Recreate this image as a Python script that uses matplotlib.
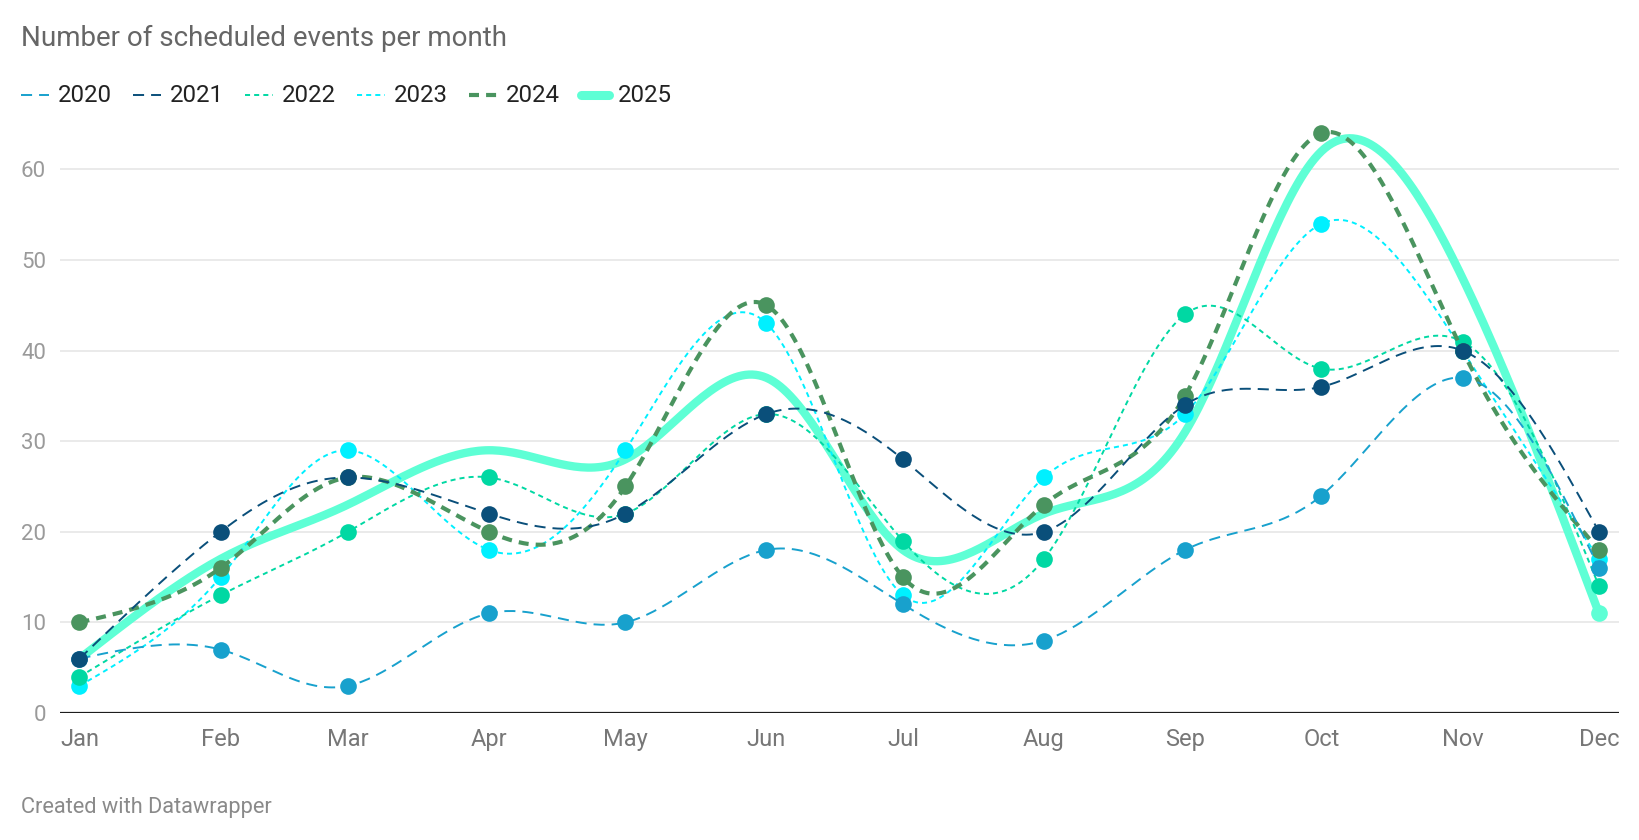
import matplotlib as mpl
mpl.use('Agg')
import matplotlib.pyplot as plt
from matplotlib.lines import Line2D
import numpy as np

plt.rcParams['font.family'] = ['Roboto', 'DejaVu Sans']

# data
months = ['Jan', 'Feb', 'Mar', 'Apr', 'May', 'Jun',
          'Jul', 'Aug', 'Sep', 'Oct', 'Nov', 'Dec']
month_dates = np.arange('2025-01', '2026-01', dtype='datetime64[M]').astype('datetime64[D]')
years = ['2020', '2021', '2022', '2023', '2024', '2025']
ev_2020 = [6, 7, 3, 11, 10, 18, 12, 8, 18, 24, 37, 16]
ev_2021 = [6, 20, 26, 22, 22, 33, 28, 20, 34, 36, 40, 20]
ev_2022 = [4, 13, 20, 26, 22, 33, 19, 17, 44, 38, 41, 14]
ev_2023 = [3, 15, 29, 18, 29, 43, 13, 26, 33, 54, 40, 17]
ev_2024 = [10, 16, 26, 20, 25, 45, 15, 23, 35, 64, 40, 18]
ev_2025 = [6, 17, 23, 29, 28, 37, 18, 22, 31, 62, 48, 11]
y_ticks = [0, 10, 20, 30, 40, 50, 60]

series = dict(zip(years, [ev_2020, ev_2021, ev_2022, ev_2023, ev_2024, ev_2025]))

# look of each series: colour, width, dashes, markers
style = {
    '2020': dict(color='#18a1cd', lw=1.4, dashes=(5.7, 3.6), marks='all', z=6),
    '2021': dict(color='#0a4f7a', lw=1.4, dashes=(5.7, 3.6), marks='all', z=7),
    '2022': dict(color='#00d8a3', lw=1.4, dashes=(2.6, 2.1), marks='all', z=4),
    '2023': dict(color='#00f0ff', lw=1.4, dashes=(2.6, 2.1), marks='all', z=3),
    '2024': dict(color='#4a945f', lw=3.0, dashes=(2.4, 1.7), marks='all', z=5),
    '2025': dict(color='#5effd5', lw=6.0, dashes=None, marks='last', z=2),
}


def natural_1d(y, n=40):
    """Natural cubic spline over point index (like d3 curveNatural, one coordinate)"""
    y = np.asarray(y, float)
    k = len(y)
    A = np.zeros((k, k))
    r = np.zeros(k)
    A[0, 0] = A[-1, -1] = 1
    for i in range(1, k - 1):
        A[i, i - 1], A[i, i], A[i, i + 1] = 1, 4, 1
        r[i] = 6 * (y[i + 1] - 2 * y[i] + y[i - 1])
    M = np.linalg.solve(A, r)
    t = np.linspace(0, 1, n, endpoint=False)
    out = []
    for i in range(k - 1):
        out.append((1 - t) * y[i] + t * y[i + 1]
                   + ((1 - t) ** 3 - (1 - t)) * M[i] / 6 + (t ** 3 - t) * M[i + 1] / 6)
    out.append([y[-1]])
    return np.concatenate(out)


W, H = 1640, 840
fig = plt.figure(figsize=(W / 100, H / 100), dpi=100)
ax = fig.add_axes([60 / W, (H - 713) / H, 1559 / W, (713 - 115) / H])

# days since Jan 1 for each month start
x = (month_dates - month_dates[0]).astype(int)
for yr in years:
    st = style[yr]
    vals = series[yr]
    sx, sy = natural_1d(x), natural_1d(vals)
    ln, = ax.plot(sx, sy, color=st['color'], lw=st['lw'], zorder=st['z'],
                  solid_capstyle='round', clip_on=False)
    if st['dashes']:
        ln.set_dashes(st['dashes'])
    if st['marks'] == 'all':
        ax.plot(x, vals, 'o', color=st['color'], ms=12, mew=0,
                zorder=st['z'] + 0.5, clip_on=False)
    else:
        ax.plot(x[-1:], vals[-1:], 'o', color=st['color'], ms=12, mew=0,
                zorder=st['z'] + 0.5, clip_on=False)

px_day = (1599 - 79.5) / x[-1]
ax.set_xlim(-19.5 / px_day, x[-1] + 20 / px_day)
ax.set_ylim(0, 66)
ax.set_xticks(x)
ax.set_xticklabels(months)
ax.set_yticks(y_ticks)
ax.yaxis.grid(True, color='#e4e4e4', lw=1.1, zorder=0)
ax.set_axisbelow(True)
for s in ax.spines.values():
    s.set_visible(False)
ax.axhline(0, color='#1d1d1d', lw=1.6, zorder=10)
ax.tick_params(axis='y', length=0, pad=10, labelsize=16, labelcolor='#9a9a9a')
ax.tick_params(axis='x', length=0, pad=11, labelsize=17, labelcolor='#777777')

# title and footer
fig.text(21 / W, 1 - 38 / H, 'Number of scheduled events per month',
         fontsize=20, color='#666666', va='center')
fig.text(21 / W, 1 - 807 / H, 'Created with Datawrapper',
         fontsize=15.7, color='#8a8a8a', va='center')

# legend row
for i, yr in enumerate(years):
    st = style[yr]
    x0 = 21 + 112 * i
    handle = Line2D([x0 / W, (x0 + 28) / W], [1 - 95 / H, 1 - 95 / H],
                    transform=fig.transFigure, color=st['color'],
                    lw=st['lw'] if yr != '2025' else 6.5,
                    solid_capstyle='round')
    if st['dashes']:
        handle.set_dashes(st['dashes'])
    fig.add_artist(handle)
    fig.text((x0 + 37) / W, 1 - 95 / H, yr, fontsize=17.3, color='#222222',
             va='center')

fig.savefig('out.png', dpi=100)
